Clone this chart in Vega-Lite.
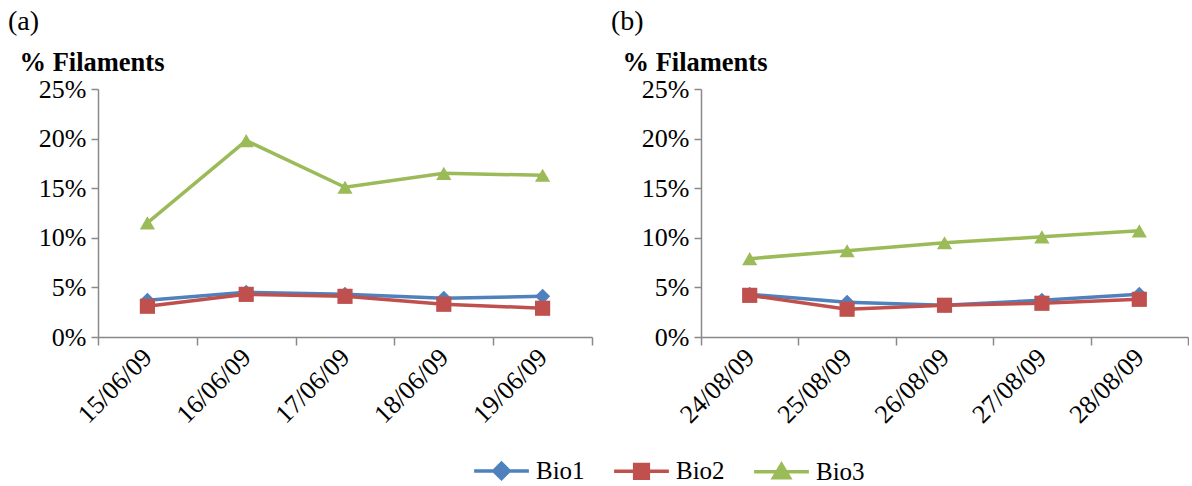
{
  "$schema": "https://vega.github.io/schema/vega-lite/v6.json",
  "padding": {"left": 8, "top": 8, "right": 0, "bottom": 0},
  "background": "white",
  "config": {
    "view": {"stroke": null},
    "font": "Times New Roman, Liberation Serif, serif",
    "title": {"font": "Times New Roman, Liberation Serif, serif", "fontSize": 28, "fontWeight": "normal", "color": "black", "anchor": "start", "frame": "group"},
    "axis": {"labelFont": "Times New Roman, Liberation Serif, serif", "titleFont": "Times New Roman, Liberation Serif, serif", "labelColor": "black", "domainColor": "#898989", "tickColor": "#898989", "domainWidth": 1.5, "tickWidth": 1.5, "grid": false},
    "legend": {"labelFont": "Times New Roman, Liberation Serif, serif"},
    "concat": {"spacing": 18}
  },
  "datasets": {
    "all": [
      {"panel": "a", "date": "15/06/09", "series": "Bio1", "value": 0.037},
      {"panel": "a", "date": "16/06/09", "series": "Bio1", "value": 0.045},
      {"panel": "a", "date": "17/06/09", "series": "Bio1", "value": 0.043},
      {"panel": "a", "date": "18/06/09", "series": "Bio1", "value": 0.039},
      {"panel": "a", "date": "19/06/09", "series": "Bio1", "value": 0.041},
      {"panel": "a", "date": "15/06/09", "series": "Bio2", "value": 0.031},
      {"panel": "a", "date": "16/06/09", "series": "Bio2", "value": 0.043},
      {"panel": "a", "date": "17/06/09", "series": "Bio2", "value": 0.041},
      {"panel": "a", "date": "18/06/09", "series": "Bio2", "value": 0.033},
      {"panel": "a", "date": "19/06/09", "series": "Bio2", "value": 0.029},
      {"panel": "a", "date": "15/06/09", "series": "Bio3", "value": 0.115},
      {"panel": "a", "date": "16/06/09", "series": "Bio3", "value": 0.198},
      {"panel": "a", "date": "17/06/09", "series": "Bio3", "value": 0.151},
      {"panel": "a", "date": "18/06/09", "series": "Bio3", "value": 0.165},
      {"panel": "a", "date": "19/06/09", "series": "Bio3", "value": 0.163},
      {"panel": "b", "date": "24/08/09", "series": "Bio1", "value": 0.043},
      {"panel": "b", "date": "25/08/09", "series": "Bio1", "value": 0.035},
      {"panel": "b", "date": "26/08/09", "series": "Bio1", "value": 0.032},
      {"panel": "b", "date": "27/08/09", "series": "Bio1", "value": 0.037},
      {"panel": "b", "date": "28/08/09", "series": "Bio1", "value": 0.043},
      {"panel": "b", "date": "24/08/09", "series": "Bio2", "value": 0.042},
      {"panel": "b", "date": "25/08/09", "series": "Bio2", "value": 0.028},
      {"panel": "b", "date": "26/08/09", "series": "Bio2", "value": 0.032},
      {"panel": "b", "date": "27/08/09", "series": "Bio2", "value": 0.034},
      {"panel": "b", "date": "28/08/09", "series": "Bio2", "value": 0.038},
      {"panel": "b", "date": "24/08/09", "series": "Bio3", "value": 0.079},
      {"panel": "b", "date": "25/08/09", "series": "Bio3", "value": 0.087},
      {"panel": "b", "date": "26/08/09", "series": "Bio3", "value": 0.095},
      {"panel": "b", "date": "27/08/09", "series": "Bio3", "value": 0.101},
      {"panel": "b", "date": "28/08/09", "series": "Bio3", "value": 0.107}
    ]
  },
  "data": {"name": "all"},
  "resolve": {"scale": {"color": "shared"}},
  "hconcat": [
    {
      "title": {"text": "(a)", "dx": -90, "offset": 13},
      "width": 494,
      "height": 248,
      "transform": [{"filter": "datum.panel === 'a'"}],
      "encoding": {
        "x": {"field": "date", "type": "nominal", "scale": {"type": "band", "paddingInner": 0, "paddingOuter": 0},
          "axis": {"title": null, "tickBand": "extent", "labelAngle": -45, "labelAlign": "right", "labelBaseline": "middle", "labelFontSize": 26, "tickSize": 8, "labelPadding": 8}},
        "y": {"field": "value", "type": "quantitative", "scale": {"domain": [0, 0.25]},
          "axis": {"values": [0, 0.05, 0.1, 0.15, 0.2, 0.25], "format": ".0%", "labelFontSize": 26, "tickSize": 7, "labelPadding": 5,
            "title": "% Filaments", "titleAngle": 0, "titleAlign": "left", "titleBaseline": "alphabetic", "titleX": -79, "titleY": -19, "titleFontSize": 26.5, "titleFontWeight": "bold", "titleColor": "black"}},
        "color": {"field": "series", "type": "nominal", "scale": {"domain": ["Bio1", "Bio2", "Bio3"], "range": ["#4F81BD", "#C0504D", "#9BBB59"]},
          "legend": {"orient": "none", "legendX": 374, "legendY": 352, "direction": "horizontal", "title": null, "labelFontSize": 25, "labelColor": "black", "symbolSize": 3000, "symbolStrokeWidth": 3.5, "columnPadding": 22, "labelOffset": 5, "padding": 0,
            "encode": {"symbols": {"update": {
              "shape": {"signal": "datum.value === 'Bio1' ? 'M-1,0H1M0,-0.28L0.28,0L0,0.28L-0.28,0Z' : datum.value === 'Bio2' ? 'M-1,0H1M-0.25,-0.25H0.25V0.25H-0.25Z' : 'M-1,0H1M0,-0.27L0.29,0.22H-0.29Z'"},
              "fill": {"scale": "color", "field": "value"},
              "stroke": {"scale": "color", "field": "value"},
              "fillOpacity": {"value": 1},
              "strokeWidth": {"value": 3.5}}}}}}
      },
      "layer": [
        {"mark": {"type": "line", "strokeWidth": 3.5}},
        {"transform": [{"filter": "datum.series === 'Bio1'"}], "mark": {"type": "point", "shape": "diamond", "filled": true, "opacity": 1, "size": 230}},
        {"transform": [{"filter": "datum.series === 'Bio2'"}], "mark": {"type": "point", "shape": "square", "filled": true, "opacity": 1, "size": 230}},
        {"transform": [{"filter": "datum.series === 'Bio3'"}], "mark": {"type": "point", "shape": "triangle-up", "filled": true, "opacity": 1, "size": 230}}
      ]
    },
    {
      "title": {"text": "(b)", "dx": -90, "offset": 13},
      "width": 487,
      "height": 248,
      "transform": [{"filter": "datum.panel === 'b'"}],
      "encoding": {
        "x": {"field": "date", "type": "nominal", "scale": {"type": "band", "paddingInner": 0, "paddingOuter": 0},
          "axis": {"title": null, "tickBand": "extent", "labelAngle": -45, "labelAlign": "right", "labelBaseline": "middle", "labelFontSize": 26, "tickSize": 8, "labelPadding": 8}},
        "y": {"field": "value", "type": "quantitative", "scale": {"domain": [0, 0.25]},
          "axis": {"values": [0, 0.05, 0.1, 0.15, 0.2, 0.25], "format": ".0%", "labelFontSize": 26, "tickSize": 7, "labelPadding": 5,
            "title": "% Filaments", "titleAngle": 0, "titleAlign": "left", "titleBaseline": "alphabetic", "titleX": -79, "titleY": -19, "titleFontSize": 26.5, "titleFontWeight": "bold", "titleColor": "black"}},
        "color": {"field": "series", "type": "nominal"}
      },
      "layer": [
        {"mark": {"type": "line", "strokeWidth": 3.5}},
        {"transform": [{"filter": "datum.series === 'Bio1'"}], "mark": {"type": "point", "shape": "diamond", "filled": true, "opacity": 1, "size": 230}},
        {"transform": [{"filter": "datum.series === 'Bio2'"}], "mark": {"type": "point", "shape": "square", "filled": true, "opacity": 1, "size": 230}},
        {"transform": [{"filter": "datum.series === 'Bio3'"}], "mark": {"type": "point", "shape": "triangle-up", "filled": true, "opacity": 1, "size": 230}}
      ]
    }
  ]
}
